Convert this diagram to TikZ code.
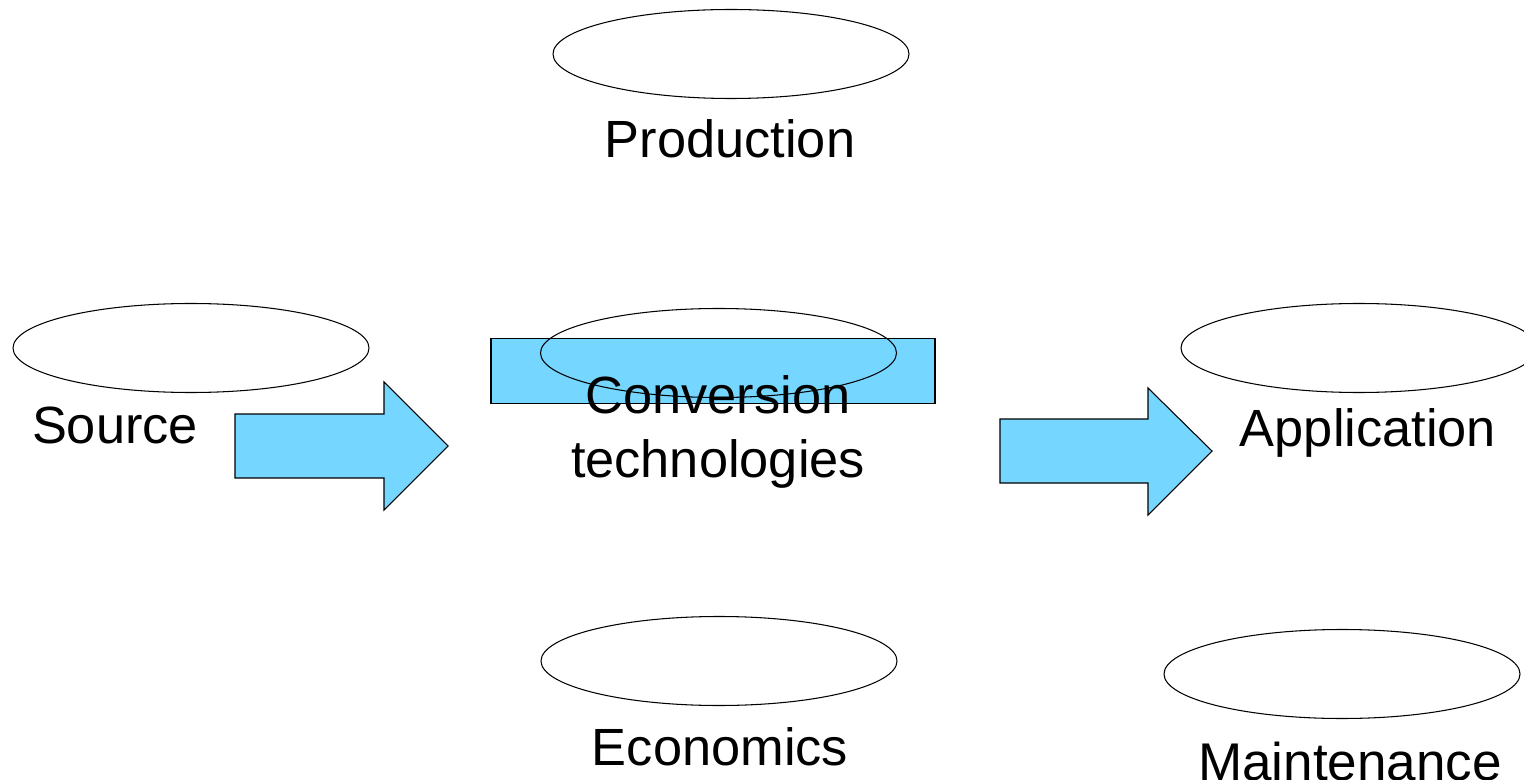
\documentclass[tikz,border=0pt]{standalone}
\usepackage{fontspec}
\setmainfont{Liberation Sans}
\usetikzlibrary{shapes.geometric}
\definecolor{arrowblue}{HTML}{75D6FF}
\begin{document}
\begin{tikzpicture}[x=0.02cm,y=-0.02cm,
  oval/.style={draw=black,line width=0.6pt,fill=white,ellipse,minimum width=356*0.02cm,minimum height=89*0.02cm,inner sep=0pt},
  oval0/.style={draw=black,line width=0.6pt,ellipse,minimum width=356*0.02cm,minimum height=89*0.02cm,inner sep=0pt},
  lbl/.style={font=\fontsize{29.8pt}{36pt}\selectfont,anchor=base,inner sep=0pt},
  blue/.style={draw=black,line width=0.6pt,fill=arrowblue}]
\useasboundingbox (0,0) rectangle (1524,780);
% ellipses
\node[oval] (prodE) at (731,54) {};
\node[lbl] (prod) at (730,158) {Production};
\node[oval] (srcE) at (191,348) {};
\node[lbl] (src) at (115,443) {Source};
\node[oval] (appE) at (1359,348) {};
\node[lbl] (app) at (1368,446) {Application};
\node[oval] (ecoE) at (719,661) {};
\node[lbl] (eco) at (720,765) {Economics};
\node[oval] (maintE) at (1342,674) {};
\node[lbl,font=\fontsize{30.2pt}{36pt}\selectfont] (maint) at (1350,780) {Maintenance};
% conversion
\node[blue,rectangle,minimum width=444*0.02cm,minimum height=65*0.02cm,inner sep=0pt] (convR) at (713,371) {};
\node[oval0] (convE) at (718.5,353) {};
\node[lbl] (conv1) at (718,413) {Conversion};
\node[lbl] (conv2) at (718,477) {technologies};
% arrows
\draw[blue] (235,414) -- (384,414) -- (384,382) -- (448,446) -- (384,510) -- (384,478) -- (235,478) -- cycle;
\draw[blue] (1000,419) -- (1148,419) -- (1148,388) -- (1212,451) -- (1148,515) -- (1148,483) -- (1000,483) -- cycle;
\end{tikzpicture}
\end{document}
